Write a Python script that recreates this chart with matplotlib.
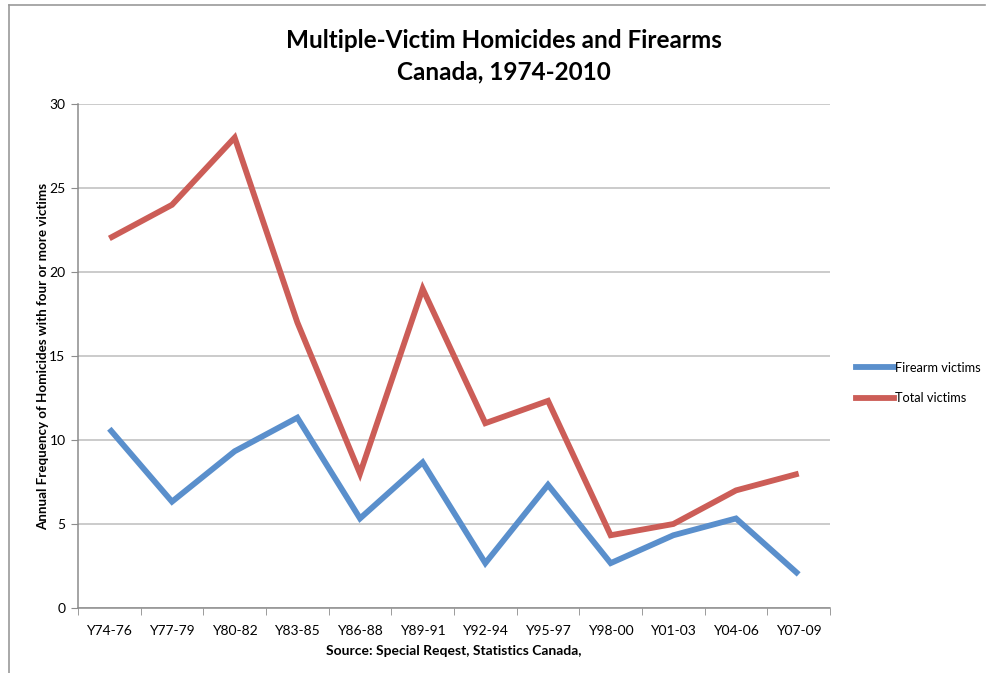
import matplotlib
matplotlib.use("Agg")
import matplotlib.pyplot as plt
from matplotlib.lines import Line2D
import numpy as np

plt.rcParams['font.family'] = ['Lato', 'DejaVu Sans']

categories = ['Y74-76', 'Y77-79', 'Y80-82', 'Y83-85', 'Y86-88', 'Y89-91',
              'Y92-94', 'Y95-97', 'Y98-00', 'Y01-03', 'Y04-06', 'Y07-09']
firearm_victims = [10.67, 6.33, 9.33, 11.33, 5.33, 8.67, 2.67, 7.33, 2.67, 4.33, 5.33, 2.0]
total_victims = [22, 24, 28, 17, 8, 19, 11, 12.33, 4.33, 5, 7, 8]
y_ticks = [0, 5, 10, 15, 20, 25, 30]

blue = '#5A8FCC'
red = '#CC5D57'
axis_gray = '#8C8C8C'

fig = plt.figure(figsize=(9.87, 6.73), dpi=100)
ax = fig.add_axes([78 / 987, 65 / 673, 752 / 987, 504 / 673])

x = np.arange(len(categories))
ax.plot(x, firearm_victims, color=blue, lw=4.2, solid_joinstyle='miter',
        solid_capstyle='butt', label='Firearm victims')
ax.plot(x, total_victims, color=red, lw=4.2, solid_joinstyle='miter',
        solid_capstyle='butt', label='Total victims')

ax.set_xlim(-0.5, len(categories) - 0.5)
ax.set_ylim(0, 30)
ax.set_yticks(y_ticks)
ax.set_yticklabels([str(v) for v in y_ticks], fontsize=10)
ax.set_xticks(x)
ax.set_xticklabels(categories, fontsize=10)
ax.set_xticks(np.arange(-0.5, len(categories)), minor=True)
ax.tick_params(axis='x', which='major', length=0, pad=12)
ax.tick_params(axis='x', which='minor', length=5, color=axis_gray, direction='out')
ax.tick_params(axis='y', length=5, color=axis_gray, direction='out', pad=4)

ax.grid(axis='y', color='#BDBDBD', lw=1.1)
ax.set_axisbelow(True)
for s in ['top', 'right']:
    ax.spines[s].set_visible(False)
for s in ['left', 'bottom']:
    ax.spines[s].set_color(axis_gray)
    ax.spines[s].set_linewidth(1.1)

ax.set_ylabel('Annual Frequency of Homicides with four or more victims',
              fontsize=9.6, fontweight='bold')
ax.yaxis.set_label_coords(-29 / 752, 0.5)
ax.set_xlabel('Source: Special Reqest, Statistics Canada,',
              fontsize=10, fontweight='bold', labelpad=6)

fig.text(504 / 987, 1 - 29 / 673, 'Multiple-Victim Homicides and Firearms\nCanada, 1974-2010',
         ha='center', va='top', fontsize=17.5, fontweight='bold', linespacing=1.45)

leg = fig.legend(handles=[Line2D([], [], color=blue, lw=4.2),
                          Line2D([], [], color=red, lw=4.2)],
                 labels=['Firearm victims', 'Total victims'],
                 loc='center left', bbox_to_anchor=(845 / 987, 1 - 383 / 673),
                 frameon=False, fontsize=9.2, handlelength=2.9, handletextpad=0.1,
                 labelspacing=1.45)

# chart area border
fig.add_artist(Line2D([9 / 987, 9 / 987], [0, 1 - 5 / 673], color='#9A9A9A', lw=1.2,
                      transform=fig.transFigure))
fig.add_artist(Line2D([9 / 987, 985 / 987], [1 - 5 / 673, 1 - 5 / 673], color='#9A9A9A', lw=1.2,
                      transform=fig.transFigure))

fig.savefig('out.png', dpi=100)
